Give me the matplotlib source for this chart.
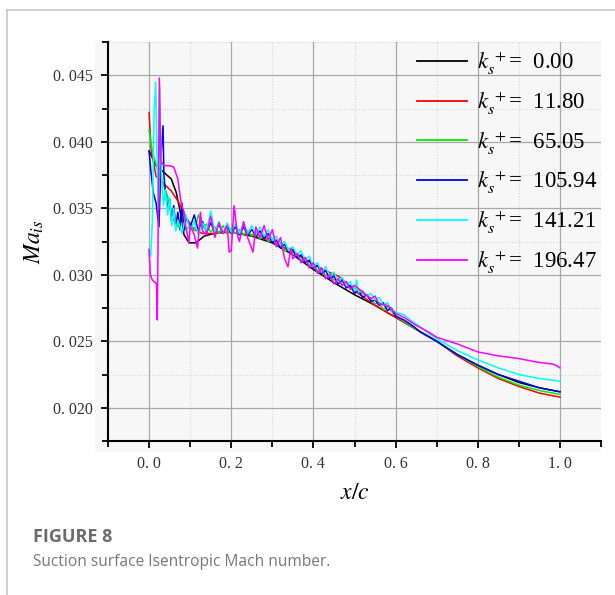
import matplotlib
matplotlib.use("Agg")
import matplotlib.pyplot as plt
from matplotlib.patches import Rectangle
from matplotlib.lines import Line2D
from matplotlib.ticker import MultipleLocator, FuncFormatter

plt.rcParams['font.family'] = ['Liberation Serif', 'DejaVu Serif']
plt.rcParams['mathtext.fontset'] = 'stix'

# roughness values for the legend
ks_plus = ["0.00", "11.80", "65.05", "105.94", "141.21", "196.47"]
colors = ["black", "red", "#00ee00", "#0000ee", "cyan", "magenta"]

# ks+ = 0.00
x_00 = [0.0, 0.005, 0.017, 0.036, 0.054, 0.066, 0.078, 0.085, 0.097, 0.114, 0.134, 0.168,
        0.2, 0.25, 0.3, 0.35, 0.4, 0.45, 0.5, 0.55, 0.6, 0.65, 0.7, 0.75, 0.8, 0.85, 0.9, 0.95, 1.0]
y_00 = [0.0393, 0.0390, 0.0382, 0.0377, 0.0372, 0.0362, 0.0344, 0.0330, 0.0324, 0.0324, 0.0329, 0.0332,
        0.0332, 0.0329, 0.0324, 0.0315, 0.0304, 0.0294, 0.0285, 0.0277, 0.0268, 0.0259, 0.0250, 0.0240,
        0.0232, 0.0225, 0.0219, 0.0215, 0.0212]

# ks+ = 11.80
x_11 = [0.0, 0.005, 0.017, 0.037, 0.054, 0.071, 0.09, 0.11, 0.13, 0.16, 0.2, 0.25, 0.3, 0.35, 0.4,
        0.43, 0.46, 0.48, 0.5, 0.55, 0.6, 0.65, 0.7, 0.75, 0.8, 0.85, 0.9, 0.95, 1.0]
y_11 = [0.0422, 0.0394, 0.0374, 0.0368, 0.0363, 0.0355, 0.0343, 0.0334, 0.0331, 0.0331, 0.0332, 0.0330,
        0.0325, 0.0317, 0.0308, 0.0303, 0.0299, 0.0294, 0.0288, 0.0277, 0.0268, 0.0259, 0.0250, 0.0239,
        0.0230, 0.0222, 0.0216, 0.0211, 0.0208]

# ks+ = 65.05
x_65 = [0.0, 0.005, 0.012, 0.02, 0.03, 0.037, 0.045, 0.05, 0.055, 0.06,
        0.07, 0.08, 0.09, 0.10, 0.11, 0.12, 0.13, 0.14, 0.15, 0.16, 0.17, 0.18, 0.19, 0.20,
        0.21, 0.22, 0.23, 0.24, 0.25, 0.26, 0.27, 0.28, 0.29, 0.30, 0.31, 0.32, 0.33, 0.34,
        0.35, 0.36, 0.37, 0.38, 0.39, 0.40, 0.41, 0.42, 0.43, 0.44, 0.45, 0.46, 0.47, 0.48,
        0.49, 0.50, 0.52, 0.54, 0.55, 0.56, 0.57, 0.58, 0.60,
        0.65, 0.7, 0.75, 0.8, 0.85, 0.9, 0.95, 1.0]
y_65 = [0.0409, 0.0398, 0.0388, 0.0380, 0.0372, 0.0366, 0.0359, 0.0352, 0.0345, 0.0341,
        0.0336, 0.0339, 0.0334, 0.0337, 0.0333, 0.0345, 0.0335, 0.0338, 0.0332, 0.0336, 0.0331, 0.0337,
        0.0331, 0.0335, 0.0331, 0.0334, 0.0330, 0.0333, 0.0329, 0.0332, 0.0327, 0.0330, 0.0325, 0.0327,
        0.0322, 0.0324, 0.0318, 0.0320, 0.0315, 0.0316, 0.0311, 0.0312, 0.0307, 0.0308, 0.0303, 0.0304,
        0.0299, 0.0301, 0.0296, 0.0297, 0.0292, 0.0294, 0.0289, 0.0290, 0.0286, 0.0282, 0.0278, 0.0279,
        0.0274, 0.0276, 0.0269,
        0.0259, 0.0250, 0.0240, 0.0231, 0.0223, 0.0217, 0.0213, 0.0210]

# ks+ = 105.94
x_105 = [0.0, 0.004, 0.01, 0.017, 0.024, 0.03, 0.034, 0.036, 0.04, 0.045, 0.05, 0.055, 0.06,
         0.065, 0.07, 0.075, 0.08, 0.085, 0.09, 0.10, 0.11, 0.12, 0.13, 0.14, 0.15, 0.16, 0.17,
         0.18, 0.19, 0.20, 0.21, 0.22, 0.23, 0.24, 0.25, 0.26, 0.27, 0.28, 0.29, 0.30, 0.31,
         0.32, 0.33, 0.34, 0.35, 0.36, 0.37, 0.38, 0.39, 0.40, 0.41, 0.42, 0.43, 0.44, 0.45,
         0.46, 0.47, 0.48, 0.49, 0.50, 0.51, 0.52, 0.53, 0.54, 0.55, 0.56, 0.57, 0.58, 0.59,
         0.60, 0.62, 0.64, 0.66, 0.7, 0.75, 0.8, 0.85, 0.9, 0.95, 1.0]
y_105 = [0.0393, 0.0379, 0.0362, 0.0354, 0.0336, 0.0395, 0.0412, 0.0375, 0.0362, 0.0350, 0.0357,
         0.0340, 0.0352, 0.0336, 0.0347, 0.0334, 0.0354, 0.0333, 0.0343, 0.0336, 0.0345, 0.0333,
         0.0340, 0.0332, 0.0339, 0.0332, 0.0338, 0.0331, 0.0337, 0.0331, 0.0336, 0.0330, 0.0336,
         0.0330, 0.0334, 0.0329, 0.0333, 0.0327, 0.0331, 0.0324, 0.0326, 0.0320, 0.0323, 0.0317,
         0.0319, 0.0313, 0.0315, 0.0309, 0.0311, 0.0305, 0.0307, 0.0301, 0.0303, 0.0297, 0.0299,
         0.0293, 0.0296, 0.0290, 0.0292, 0.0286, 0.0288, 0.0283, 0.0285, 0.0280, 0.0281, 0.0277,
         0.0279, 0.0273, 0.0275, 0.0269, 0.0266, 0.0262, 0.0257, 0.0250, 0.0240, 0.0232, 0.0225,
         0.0220, 0.0215, 0.0212]

# ks+ = 141.21
x_141 = [0.0, 0.004, 0.008, 0.012, 0.016, 0.02, 0.023, 0.026, 0.03, 0.035, 0.04, 0.045, 0.05,
         0.055, 0.06, 0.065, 0.07, 0.08, 0.09, 0.10, 0.11, 0.12, 0.13, 0.14, 0.15, 0.16, 0.17,
         0.18, 0.19, 0.20, 0.21, 0.22, 0.23, 0.24, 0.25, 0.26, 0.27, 0.28, 0.29, 0.30, 0.31,
         0.32, 0.33, 0.34, 0.35, 0.36, 0.37, 0.38, 0.39, 0.40, 0.41, 0.42, 0.43, 0.44, 0.45,
         0.46, 0.47, 0.48, 0.49, 0.50, 0.505, 0.51, 0.52, 0.53, 0.54, 0.55, 0.56, 0.57, 0.58,
         0.59, 0.60, 0.62, 0.64, 0.66, 0.68, 0.7, 0.75, 0.8, 0.85, 0.9, 0.95, 1.0]
y_141 = [0.0319, 0.0314, 0.0340, 0.0420, 0.0445, 0.0380, 0.0349, 0.0441, 0.0375, 0.0352, 0.0364,
         0.0345, 0.0358, 0.0337, 0.0350, 0.0333, 0.0341, 0.0331, 0.0345, 0.0333, 0.0340, 0.0330,
         0.0339, 0.0333, 0.0348, 0.0332, 0.0340, 0.0331, 0.0339, 0.0332, 0.0338, 0.0331, 0.0339,
         0.0331, 0.0337, 0.0330, 0.0336, 0.0329, 0.0334, 0.0326, 0.0329, 0.0322, 0.0325, 0.0318,
         0.0321, 0.0315, 0.0318, 0.0311, 0.0314, 0.0306, 0.0309, 0.0302, 0.0306, 0.0299, 0.0302,
         0.0295, 0.0298, 0.0292, 0.0295, 0.0288, 0.0296, 0.0287, 0.0288, 0.0284, 0.0286, 0.0281,
         0.0283, 0.0277, 0.0279, 0.0274, 0.0272, 0.0270, 0.0265, 0.0261, 0.0256, 0.0252, 0.0243,
         0.0236, 0.0230, 0.0225, 0.0222, 0.0220]

# ks+ = 196.47
x_196 = [0.0, 0.003, 0.008, 0.015, 0.018, 0.02, 0.022, 0.025, 0.028, 0.032, 0.04, 0.05, 0.06,
         0.07, 0.078, 0.085, 0.09, 0.097, 0.10, 0.11, 0.118, 0.125, 0.13, 0.14, 0.15, 0.16, 0.17,
         0.18, 0.19, 0.195, 0.20, 0.207, 0.215, 0.22, 0.23, 0.24, 0.253, 0.26, 0.27, 0.28, 0.29,
         0.30, 0.31, 0.32, 0.33, 0.338, 0.345, 0.35, 0.36, 0.37, 0.38, 0.39, 0.40, 0.41, 0.42,
         0.43, 0.44, 0.45, 0.46, 0.47, 0.48, 0.49, 0.50, 0.52, 0.54, 0.55, 0.56, 0.58, 0.60,
         0.62, 0.65, 0.68, 0.7, 0.72, 0.75, 0.8, 0.85, 0.9, 0.95, 0.98, 0.99, 1.0]
y_196 = [0.0319, 0.0300, 0.0296, 0.0294, 0.0293, 0.0266, 0.0330, 0.0448, 0.0387, 0.0383, 0.0382,
         0.0382, 0.0381, 0.0372, 0.0354, 0.0347, 0.0335, 0.0324, 0.0337, 0.0330, 0.0320, 0.0347,
         0.0333, 0.0330, 0.0344, 0.0328, 0.0339, 0.0331, 0.0337, 0.0317, 0.0318, 0.0352, 0.0330,
         0.0325, 0.0340, 0.0328, 0.0317, 0.0336, 0.0328, 0.0337, 0.0326, 0.0334, 0.0321, 0.0328,
         0.0312, 0.0306, 0.0320, 0.0312, 0.0316, 0.0309, 0.0313, 0.0305, 0.0309, 0.0301, 0.0305,
         0.0297, 0.0300, 0.0293, 0.0297, 0.0292, 0.0295, 0.0289, 0.0292, 0.0287, 0.0282, 0.0284,
         0.0278, 0.0277, 0.0271, 0.0268, 0.0262, 0.0257, 0.0253, 0.0251, 0.0248, 0.0242, 0.0239,
         0.0237, 0.0234, 0.0233, 0.0232, 0.0230]

series = [(x_00, y_00), (x_11, y_11), (x_65, y_65), (x_105, y_105), (x_141, y_141), (x_196, y_196)]

W, H = 615, 595
fig = plt.figure(figsize=(W / 100, H / 100), dpi=100)

# card border (left + top) and plot background
fig.add_artist(Line2D([7 / W, 7 / W], [0, 1 - 10 / H], color="#c8c8c8", lw=1.2))
fig.add_artist(Line2D([7 / W, 1], [1 - 10 / H, 1 - 10 / H], color="#c8c8c8", lw=1.2))
fig.add_artist(Rectangle((95 / W, 1 - 452 / H), 506 / W, 410 / H, facecolor="#f7f7f7",
                         edgecolor="none", zorder=0))

ax = fig.add_axes([108 / W, 1 - 441 / H, 493 / W, 399 / H])
ax.set_facecolor("none")

for (xs, ys), c, k in zip(series, colors, ks_plus):
    ax.plot(xs, ys, color=c, lw=1.1, label=r"$k_s^{\,+}$=  " + k)

ax.set_xlim(-0.1, 1.1)
ax.set_ylim(0.0175, 0.0475)
ax.xaxis.set_major_locator(MultipleLocator(0.2))
ax.xaxis.set_minor_locator(MultipleLocator(0.1))
ax.yaxis.set_major_locator(MultipleLocator(0.005))
ax.yaxis.set_minor_locator(MultipleLocator(0.0025))
ax.xaxis.set_major_formatter(FuncFormatter(lambda v, p: f"{v:.1f}".replace(".", ". ")))
ax.yaxis.set_major_formatter(FuncFormatter(lambda v, p: f"{v:.3f}".replace(".", ". ")))

ax.grid(which="major", color="#a8a8a8", lw=0.9, ls="-")
ax.grid(which="minor", color="#d4d4d4", lw=0.8, ls=":")
ax.set_axisbelow(True)

for s in ["top", "right"]:
    ax.spines[s].set_visible(False)
for s in ["left", "bottom"]:
    ax.spines[s].set_linewidth(1.5)
ax.tick_params(which="both", direction="out", width=1.3, labelsize=11.5, colors="black")
ax.tick_params(which="major", length=5, pad=6)
ax.tick_params(which="minor", length=4)
for lbl in ax.get_xticklabels() + ax.get_yticklabels():
    lbl.set_color("#333333")

ax.set_ylabel(r"$Ma_{is}$", fontsize=17, labelpad=5)
ax.set_xlabel(r"$x/c$", fontsize=17, labelpad=8)

leg = ax.legend(loc="upper left", bbox_to_anchor=(417 / W, 1 - 50 / H),
                bbox_transform=fig.transFigure, frameon=False, fontsize=16.5,
                handlelength=2.18, handletextpad=0.44, labelspacing=0.55,
                borderpad=0, borderaxespad=0)
for line in leg.get_lines():
    line.set_linewidth(1.3)

fig.text(33 / W, 1 - 537 / H, "FIGURE 8", fontsize=13, fontweight="bold",
         color="#6b6b6b", family="Open Sans", va="center")
fig.text(33 / W, 1 - 562 / H, "Suction surface Isentropic Mach number.", fontsize=11.2,
         color="#777777", family="Open Sans", va="center")

fig.savefig("out.png", dpi=100)
